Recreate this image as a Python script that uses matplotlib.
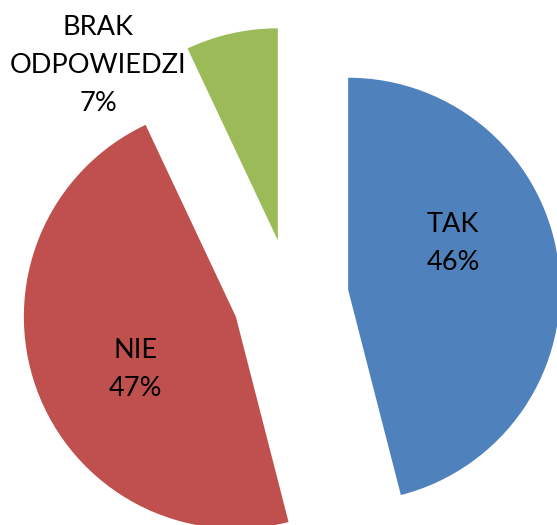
import matplotlib.pyplot as plt

labels = ["TAK", "NIE", "BRAK\nODPOWIEDZI"]
shares = [46, 47, 7]
colors = ["#4F81BD", "#C0504D", "#9BBB59"]

# where each label sits, in pie units (radius = 1)
label_pos = [(0.767, 0.250), (-0.733, -0.344), (-0.908, 1.094)]

plt.rcParams["font.family"] = ["Lato", "DejaVu Sans"]

fig = plt.figure(figsize=(5.57, 5.25), dpi=100)
ax = fig.add_axes([0, 0, 1, 1])

wedges, _ = ax.pie(
    shares,
    colors=colors,
    startangle=90,
    counterclock=False,
    explode=[0.274] * len(shares),
    radius=1.0,
    center=(0, 0),
    wedgeprops=dict(linewidth=0),
)

for lab, val, (x, y) in zip(labels, shares, label_pos):
    ax.text(x, y, f"{lab}\n{val}%", ha="center", va="center",
            fontsize=19.5, color="black", linespacing=1.65)

# pie radius is 212 px, centre at (290, 297) px from the top-left corner
r_px, cx, cy = 212, 290.5, 297
ax.set_aspect("equal")
ax.set_xlim(-cx / r_px, (557 - cx) / r_px)
ax.set_ylim(-(525 - cy) / r_px, cy / r_px)
ax.axis("off")

fig.savefig("out.png", dpi=100)
